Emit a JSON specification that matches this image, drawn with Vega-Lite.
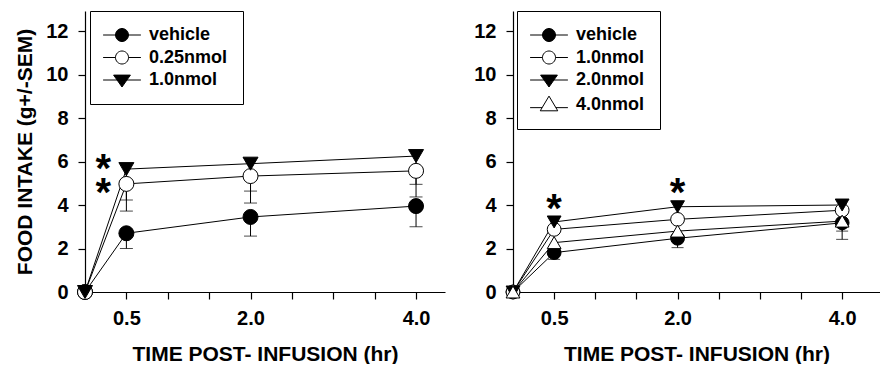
{
  "$schema": "https://vega.github.io/schema/vega-lite/v6.json",
  "padding": {"left": 14, "top": 10, "right": 0, "bottom": 0},
  "background": "white",
  "datasets": {
    "obs": [
      {"panel": "L", "series": "vehicle", "t": 0, "v": 0, "lo": null},
      {"panel": "L", "series": "vehicle", "t": 0.5, "v": 2.7, "lo": 2.0},
      {"panel": "L", "series": "vehicle", "t": 2, "v": 3.45, "lo": 2.57},
      {"panel": "L", "series": "vehicle", "t": 4, "v": 3.95, "lo": 3.0},
      {"panel": "L", "series": "0.25nmol", "t": 0, "v": 0, "lo": null},
      {"panel": "L", "series": "0.25nmol", "t": 0.5, "v": 4.97, "lo": 3.72},
      {"panel": "L", "series": "0.25nmol", "t": 2, "v": 5.33, "lo": 4.09},
      {"panel": "L", "series": "0.25nmol", "t": 4, "v": 5.57, "lo": 4.37},
      {"panel": "L", "series": "1.0nmol", "t": 0, "v": 0, "lo": null},
      {"panel": "L", "series": "1.0nmol", "t": 0.5, "v": 5.65, "lo": 4.23},
      {"panel": "L", "series": "1.0nmol", "t": 2, "v": 5.9, "lo": 4.64},
      {"panel": "L", "series": "1.0nmol", "t": 4, "v": 6.25, "lo": 4.95},
      {"panel": "R", "series": "vehicle", "t": 0, "v": 0, "lo": null},
      {"panel": "R", "series": "vehicle", "t": 0.5, "v": 1.81, "lo": 1.5},
      {"panel": "R", "series": "vehicle", "t": 2, "v": 2.47, "lo": 2.04},
      {"panel": "R", "series": "vehicle", "t": 4, "v": 3.18, "lo": 2.42},
      {"panel": "R", "series": "1.0nmol", "t": 0, "v": 0, "lo": null},
      {"panel": "R", "series": "1.0nmol", "t": 0.5, "v": 2.88, "lo": null},
      {"panel": "R", "series": "1.0nmol", "t": 2, "v": 3.34, "lo": null},
      {"panel": "R", "series": "1.0nmol", "t": 4, "v": 3.76, "lo": null},
      {"panel": "R", "series": "2.0nmol", "t": 0, "v": 0, "lo": null},
      {"panel": "R", "series": "2.0nmol", "t": 0.5, "v": 3.22, "lo": null},
      {"panel": "R", "series": "2.0nmol", "t": 2, "v": 3.92, "lo": null},
      {"panel": "R", "series": "2.0nmol", "t": 4, "v": 4.0, "lo": null},
      {"panel": "R", "series": "4.0nmol", "t": 0, "v": 0, "lo": null},
      {"panel": "R", "series": "4.0nmol", "t": 0.5, "v": 2.27, "lo": null},
      {"panel": "R", "series": "4.0nmol", "t": 2, "v": 2.8, "lo": null},
      {"panel": "R", "series": "4.0nmol", "t": 4, "v": 3.26, "lo": 2.8}
    ],
    "stars": [
      {"panel": "L", "t": 0.5, "v": 6.07},
      {"panel": "L", "t": 0.5, "v": 4.97},
      {"panel": "R", "t": 0.5, "v": 4.23},
      {"panel": "R", "t": 2, "v": 4.97}
    ]
  },
  "hconcat": [
    {
      "width": 360,
      "height": 281,
      "layer": [
        {
          "data": {"name": "obs"},
          "transform": [{"filter": "datum.panel == 'L' && datum.lo != null"}],
          "mark": {"type": "rule", "color": "black", "strokeWidth": 1},
          "encoding": {
            "x": {"field": "t", "type": "quantitative", "scale": {"domain": [0, 4.35], "nice": false},
              "axis": {"values": [0.5, 1, 1.5, 2, 2.5, 3, 3.5, 4], "labelExpr": "datum.value == 0.5 || datum.value == 2 || datum.value == 4 ? format(datum.value, '.1f') : ''", "title": "TIME POST- INFUSION (hr)", "titleFontSize": 21, "labelPadding": 9, "titlePadding": 15, "labelFlush": false}},
            "y": {"field": "v", "type": "quantitative", "scale": {"domain": [0, 12.92], "nice": false},
              "axis": {"values": [0, 2, 4, 6, 8, 10, 12], "title": "FOOD INTAKE (g+/-SEM)", "titleFontSize": 21, "labelPadding": 10, "titlePadding": 10}},
            "y2": {"field": "lo"}
          }
        },
        {
          "data": {"name": "obs"},
          "transform": [{"filter": "datum.panel == 'L' && datum.lo != null"}],
          "mark": {"type": "point", "shape": "M-1,0L1,0", "size": 169, "stroke": "black", "strokeWidth": 1, "filled": false},
          "encoding": {
            "x": {"field": "t", "type": "quantitative"},
            "y": {"field": "lo", "type": "quantitative"}
          }
        },
        {
          "data": {"name": "obs"},
          "transform": [{"filter": "datum.panel == 'L'"}],
          "mark": {"type": "line", "color": "black", "strokeWidth": 1},
          "encoding": {
            "x": {"field": "t", "type": "quantitative"},
            "y": {"field": "v", "type": "quantitative"},
            "detail": {"field": "series", "type": "nominal"}
          }
        },
        {
          "data": {"name": "obs"},
          "transform": [{"filter": "datum.panel == 'L'"}],
          "mark": {"type": "point", "filled": true, "size": 225, "stroke": "black", "strokeWidth": 1, "opacity": 1},
          "encoding": {
            "x": {"field": "t", "type": "quantitative"},
            "y": {"field": "v", "type": "quantitative"},
            "shape": {"field": "series", "type": "nominal", "scale": {"domain": ["vehicle", "0.25nmol", "1.0nmol"], "range": ["circle", "circle", "triangle-down"]}, "legend": null},
            "fill": {"field": "series", "type": "nominal", "scale": {"domain": ["vehicle", "0.25nmol", "1.0nmol"], "range": ["black", "white", "black"]}, "legend": null}
          }
        },
        {
          "data": {"name": "obs"},
          "transform": [{"filter": "datum.panel == 'L' && datum.t < 0"}],
          "mark": {"type": "point", "filled": true, "strokeWidth": 1, "opacity": 1},
          "encoding": {
            "x": {"field": "t", "type": "quantitative"},
            "y": {"field": "v", "type": "quantitative"},
            "shape": {"field": "series", "type": "nominal", "scale": {"domain": ["vehicle", "0.25nmol", "1.0nmol"], "range": [
              "M-2.7,0L-0.93,0M0.93,0L2.7,0M-0.93,0A0.93,0.93,0,1,0,0.93,0A0.93,0.93,0,1,0,-0.93,0Z",
              "M-2.7,0L-0.93,0M0.93,0L2.7,0M-0.93,0A0.93,0.93,0,1,0,0.93,0A0.93,0.93,0,1,0,-0.93,0Z",
              "M-2.7,0L2.7,0M-1.2,-0.7L1.2,-0.7L0,1.0Z"]},
              "legend": {"orient": "none", "legendX": 5, "legendY": 0, "title": null}},
            "fill": {"field": "series", "type": "nominal", "scale": {"domain": ["vehicle", "0.25nmol", "1.0nmol"], "range": ["black", "white", "black"]},
              "legend": {"orient": "none", "legendX": 5, "legendY": 0, "title": null}},
            "stroke": {"field": "series", "type": "nominal", "scale": {"domain": ["vehicle", "0.25nmol", "1.0nmol"], "range": ["black", "black", "black"]},
              "legend": {"orient": "none", "legendX": 5, "legendY": 0, "title": null}}
          }
        },
        {
          "data": {"name": "stars"},
          "transform": [{"filter": "datum.panel == 'L'"}],
          "mark": {"type": "text", "text": "*", "font": "Liberation Sans", "fontWeight": "bold", "fontSize": 40, "baseline": "alphabetic", "dy": 22, "dx": -23, "color": "black"},
          "encoding": {
            "x": {"field": "t", "type": "quantitative"},
            "y": {"field": "v", "type": "quantitative"}
          }
        }
      ],
      "resolve": {"scale": {"shape": "independent", "fill": "independent", "stroke": "independent"}, "legend": {"shape": "independent", "fill": "independent", "stroke": "independent"}}
    },
    {
      "width": 367,
      "height": 281,
      "layer": [
        {
          "data": {"name": "obs"},
          "transform": [{"filter": "datum.panel == 'R' && datum.lo != null"}],
          "mark": {"type": "rule", "color": "black", "strokeWidth": 1},
          "encoding": {
            "x": {"field": "t", "type": "quantitative", "scale": {"domain": [0, 4.46], "nice": false},
              "axis": {"values": [0.5, 1, 1.5, 2, 2.5, 3, 3.5, 4], "labelExpr": "datum.value == 0.5 || datum.value == 2 || datum.value == 4 ? format(datum.value, '.1f') : ''", "title": "TIME POST- INFUSION (hr)", "titleFontSize": 21, "labelPadding": 9, "titlePadding": 15, "labelFlush": false}},
            "y": {"field": "v", "type": "quantitative", "scale": {"domain": [0, 12.92], "nice": false},
              "axis": {"values": [0, 2, 4, 6, 8, 10, 12], "title": null, "labelPadding": 10}},
            "y2": {"field": "lo"}
          }
        },
        {
          "data": {"name": "obs"},
          "transform": [{"filter": "datum.panel == 'R' && datum.lo != null"}],
          "mark": {"type": "point", "shape": "M-1,0L1,0", "size": 144, "stroke": "black", "strokeWidth": 1, "filled": false},
          "encoding": {
            "x": {"field": "t", "type": "quantitative"},
            "y": {"field": "lo", "type": "quantitative"}
          }
        },
        {
          "data": {"name": "obs"},
          "transform": [{"filter": "datum.panel == 'R'"}],
          "mark": {"type": "line", "color": "black", "strokeWidth": 1},
          "encoding": {
            "x": {"field": "t", "type": "quantitative"},
            "y": {"field": "v", "type": "quantitative"},
            "detail": {"field": "series", "type": "nominal"}
          }
        },
        {
          "data": {"name": "obs"},
          "transform": [{"filter": "datum.panel == 'R'"}],
          "mark": {"type": "point", "filled": true, "size": 190, "stroke": "black", "strokeWidth": 1, "opacity": 1},
          "encoding": {
            "x": {"field": "t", "type": "quantitative"},
            "y": {"field": "v", "type": "quantitative"},
            "shape": {"field": "series", "type": "nominal", "scale": {"domain": ["vehicle", "1.0nmol", "2.0nmol", "4.0nmol"], "range": ["circle", "circle", "triangle-down", "triangle-up"]}, "legend": null},
            "fill": {"field": "series", "type": "nominal", "scale": {"domain": ["vehicle", "1.0nmol", "2.0nmol", "4.0nmol"], "range": ["black", "white", "black", "white"]}, "legend": null}
          }
        },
        {
          "data": {"name": "obs"},
          "transform": [{"filter": "datum.panel == 'R' && datum.t < 0"}],
          "mark": {"type": "point", "filled": true, "strokeWidth": 1, "opacity": 1},
          "encoding": {
            "x": {"field": "t", "type": "quantitative"},
            "y": {"field": "v", "type": "quantitative"},
            "shape": {"field": "series", "type": "nominal", "scale": {"domain": ["vehicle", "1.0nmol", "2.0nmol", "4.0nmol"], "range": [
              "M-2.7,0L-0.93,0M0.93,0L2.7,0M-0.93,0A0.93,0.93,0,1,0,0.93,0A0.93,0.93,0,1,0,-0.93,0Z",
              "M-2.7,0L-0.93,0M0.93,0L2.7,0M-0.93,0A0.93,0.93,0,1,0,0.93,0A0.93,0.93,0,1,0,-0.93,0Z",
              "M-2.7,0L2.7,0M-1.2,-0.7L1.2,-0.7L0,1.0Z",
              "M-2.7,0.45L-0.98,0.45M0.98,0.45L2.7,0.45M0,-1.2L1.25,0.9L-1.25,0.9Z"]},
              "legend": {"orient": "none", "legendX": 4, "legendY": 0, "title": null}},
            "fill": {"field": "series", "type": "nominal", "scale": {"domain": ["vehicle", "1.0nmol", "2.0nmol", "4.0nmol"], "range": ["black", "white", "black", "white"]},
              "legend": {"orient": "none", "legendX": 4, "legendY": 0, "title": null}},
            "stroke": {"field": "series", "type": "nominal", "scale": {"domain": ["vehicle", "1.0nmol", "2.0nmol", "4.0nmol"], "range": ["black", "black", "black", "black"]},
              "legend": {"orient": "none", "legendX": 4, "legendY": 0, "title": null}}
          }
        },
        {
          "data": {"name": "stars"},
          "transform": [{"filter": "datum.panel == 'R'"}],
          "mark": {"type": "text", "text": "*", "font": "Liberation Sans", "fontWeight": "bold", "fontSize": 40, "baseline": "alphabetic", "dy": 22, "color": "black"},
          "encoding": {
            "x": {"field": "t", "type": "quantitative"},
            "y": {"field": "v", "type": "quantitative"}
          }
        }
      ],
      "resolve": {"scale": {"shape": "independent", "fill": "independent", "stroke": "independent"}, "legend": {"shape": "independent", "fill": "independent", "stroke": "independent"}}
    }
  ],
  "spacing": 28,
  "resolve": {"scale": {"x": "independent", "y": "independent", "shape": "independent", "fill": "independent", "stroke": "independent"}, "legend": {"shape": "independent", "fill": "independent", "stroke": "independent"}},
  "config": {
    "view": {"stroke": null},
    "axis": {"domainColor": "black", "tickColor": "black", "labelColor": "black", "titleColor": "black", "labelFont": "Liberation Sans", "titleFont": "Liberation Sans", "labelFontWeight": "bold", "titleFontWeight": "bold", "labelFontSize": 20, "titleFontSize": 20, "grid": false, "tickSize": 7, "domainWidth": 1.2, "tickWidth": 1.2},
    "legend": {"labelFont": "Liberation Sans", "labelFontWeight": "bold", "labelFontSize": 18, "labelColor": "black", "symbolSize": 196, "symbolStrokeColor": "black", "symbolStrokeWidth": 1, "strokeColor": "black", "padding": 15, "rowPadding": 4.5, "symbolOffset": 8, "labelOffset": 18}
  }
}
